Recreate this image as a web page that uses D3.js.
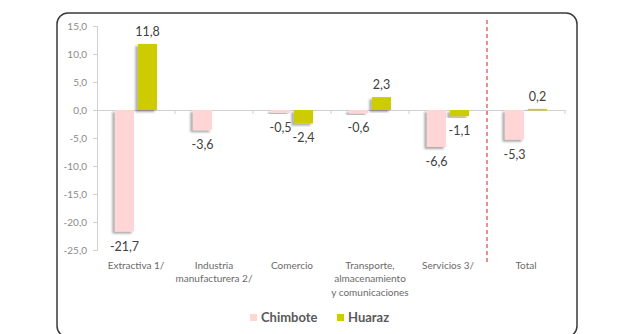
<!DOCTYPE html>
<html><head><meta charset="utf-8">
<script src="https://cdn.jsdelivr.net/npm/d3@7"></script>
<style>body{margin:0;background:#fff}svg{display:block}</style>
</head><body>
<svg id="c" width="630" height="334"></svg>
<script>
const categories = [["Extractiva 1/"],["Industria","manufacturera 2/"],["Comercio"],["Transporte,","almacenamiento","y comunicaciones"],["Servicios 3/"],["Total"]];
const seriesNames = ["Chimbote","Huaraz"];
const chimbote = [-21.7,-3.6,-0.5,-0.6,-6.6,-5.3];
const huaraz = [11.8,null,-2.4,2.3,-1.1,0.2];
const yTicks = [15,10,5,0,-5,-10,-15,-20,-25];
const colors = ["#FFD5D5","#CCCC00"];

const svg = d3.select("#c");
const defs = svg.append("defs");
const f = defs.append("filter").attr("id","sh").attr("x","-30%").attr("y","-10%").attr("width","160%").attr("height","130%");
f.append("feDropShadow").attr("dx",-2.5).attr("dy",2).attr("stdDeviation",1.2).attr("flood-color","#000").attr("flood-opacity",0.35);

svg.append("rect").attr("x",57).attr("y",13).attr("width",520).attr("height",324).attr("rx",11)
  .attr("fill","#fff").attr("stroke","#3a3a3a").attr("stroke-width",1.5);

const x0 = 97, x1 = 565;
const y = d3.scaleLinear().domain([-25,15]).range([250,26]);
const x = d3.scaleBand().domain(d3.range(categories.length)).range([x0,x1]).paddingInner(0).paddingOuter(0);
const xs = d3.scaleBand().domain([0,1]).range([0,x.bandwidth()]).paddingInner(0.17).paddingOuter(0.78);

// y axis
const ya = svg.append("g").attr("transform",`translate(${x0},0)`)
  .call(d3.axisLeft(y).tickValues(yTicks).tickSize(4).tickPadding(6).tickFormat(d=>d3.format(".1f")(d).replace(".",",").replace("−","-")));
ya.select(".domain").attr("stroke","#d0d0d0");
ya.selectAll(".tick line").attr("stroke","#d0d0d0");
ya.selectAll(".tick text").attr("fill","#8a8a8a").attr("font-family","Lato, 'Open Sans', sans-serif").attr("font-size",10);

// zero line with category ticks
const xa = svg.append("g").attr("transform",`translate(0,${y(0)})`)
  .call(d3.axisBottom(x).tickValues([]).tickSizeOuter(0));
xa.select(".domain").attr("stroke","#d0d0d0");
[1,2,3,4,5,6].forEach(i=>{
  svg.append("line").attr("x1",x0+i*x.step()).attr("x2",x0+i*x.step()).attr("y1",y(0)).attr("y2",y(0)+4).attr("stroke","#d0d0d0");
});

// dashed separator
svg.append("line").attr("x1",x(5)).attr("x2",x(5)).attr("y1",20).attr("y2",265)
  .attr("stroke","#D9474A").attr("stroke-width",1.2).attr("stroke-dasharray","4,3");

const series = [chimbote,huaraz];
series.forEach((vals,si)=>{
  vals.forEach((v,i)=>{
    if(v===null) return;
    const bx = x(i)+xs(si);
    svg.append("rect").attr("x",bx).attr("width",xs.bandwidth())
      .attr("y",y(Math.max(0,v))).attr("height",Math.max(1.5,Math.abs(y(v)-y(0))))
      .attr("fill",colors[si]).attr("filter","url(#sh)");
    svg.append("text").attr("x",bx+xs.bandwidth()/2)
      .attr("y", v>=0 ? y(v)-8 : y(v)+19)
      .attr("text-anchor","middle").attr("fill","#404040")
      .attr("font-family","Lato, 'Open Sans', sans-serif").attr("font-size",12.5)
      .text(d3.format(".1f")(v).replace(".",",").replace("−","-"));
  });
});

// category labels
categories.forEach((lines,i)=>{
  const t = svg.append("text").attr("x",x(i)+x.bandwidth()/2).attr("y",269)
    .attr("text-anchor","middle").attr("fill","#6a6a6a")
    .attr("font-family","Lato, 'Open Sans', sans-serif").attr("font-size",10);
  lines.forEach((l,j)=>t.append("tspan").attr("x",x(i)+x.bandwidth()/2).attr("dy",j?13.3:0).text(l));
});

// legend
const leg = [{x:250},{x:337}];
seriesNames.forEach((n,i)=>{
  svg.append("rect").attr("x",leg[i].x).attr("y",314).attr("width",7).attr("height",7).attr("fill",colors[i]);
  svg.append("text").attr("x",leg[i].x+11).attr("y",322).attr("fill","#595959")
    .attr("font-family","Lato, 'Open Sans', sans-serif").attr("font-size",13).attr("font-weight","bold").text(n);
});
</script>
</body></html>
